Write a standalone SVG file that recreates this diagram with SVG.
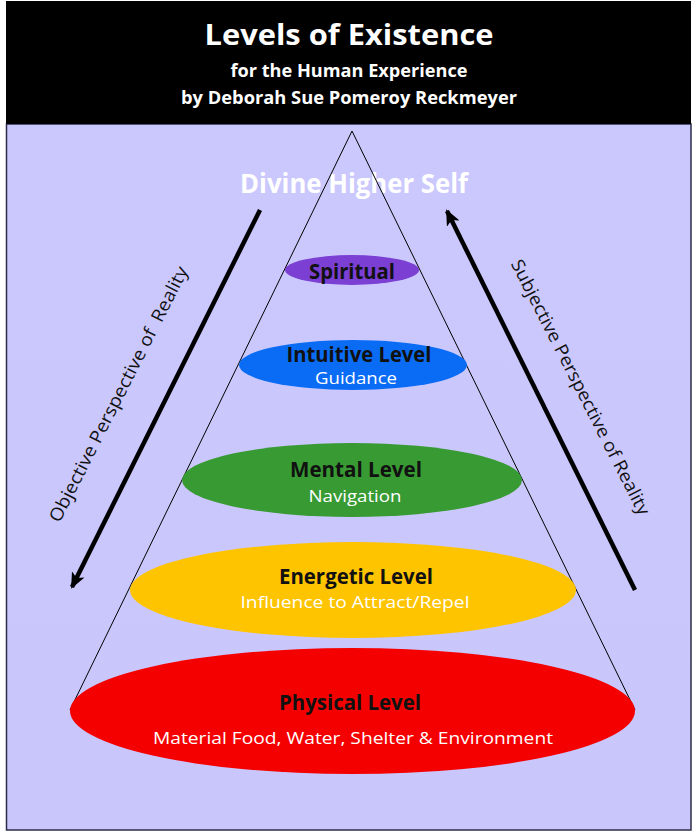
<svg xmlns="http://www.w3.org/2000/svg" width="697" height="840" viewBox="0 0 697 840">
  <defs>
    <linearGradient id="bg" x1="0" y1="0" x2="0" y2="1">
      <stop offset="0" stop-color="#cbc8fd"/>
      <stop offset="1" stop-color="#c9c6fb"/>
    </linearGradient>
    <marker id="head" markerUnits="userSpaceOnUse" markerWidth="16" markerHeight="16" viewBox="0 0 16 16" refX="14" refY="8" orient="auto">
      <path d="M0,1 L16,8 L0,15 L4,8 Z" fill="#000"/>
    </marker>
  </defs>
  <style>
    .t { font-family: "Open Sans", Lato, "Liberation Sans", sans-serif; }
    .b { font-weight: bold; }
    .lbl { font-size: 21px; fill: #111; font-weight: bold; text-anchor: middle; }
    .sub { font-size: 16.5px; fill: #fff; text-anchor: middle; }
    .side { font-size: 18px; fill: #111; text-anchor: middle; white-space: pre; }
    .arrow { stroke: #000; stroke-width: 4.5; fill: none; }
    .cone { stroke: #000; stroke-width: 1; fill: none; }
  </style>
  <rect x="0" y="0" width="697" height="840" fill="#fff"/>
  <rect x="6.5" y="124" width="684.5" height="706" fill="url(#bg)" stroke="#2c2c4a" stroke-width="1.5"/>
  <g id="header">
    <rect x="6" y="1" width="685" height="123" fill="#000"/>
    <text class="t b" x="349" y="45" font-size="28" fill="#fff" text-anchor="middle" textLength="289" lengthAdjust="spacingAndGlyphs">Levels of Existence</text>
    <text class="t b" x="349" y="77" font-size="17.5" fill="#fff" text-anchor="middle" textLength="237" lengthAdjust="spacingAndGlyphs">for the Human Experience</text>
    <text class="t b" x="349" y="104" font-size="17.5" fill="#fff" text-anchor="middle" textLength="336" lengthAdjust="spacingAndGlyphs">by Deborah Sue Pomeroy Reckmeyer</text>
  </g>
  <g id="divine">
    <text class="t b" x="354" y="193" font-size="26" fill="#fff" text-anchor="middle" textLength="228" lengthAdjust="spacingAndGlyphs">Divine Higher Self</text>
  </g>
  <g id="connectors">
    <line class="cone" x1="352" y1="131" x2="70" y2="710"/>
    <line class="cone" x1="352" y1="131" x2="635" y2="710"/>
    <line class="arrow" x1="260" y1="210" x2="72" y2="587" marker-end="url(#head)"/>
    <line class="arrow" x1="635" y1="590" x2="447" y2="211" marker-end="url(#head)"/>
  </g>
  <g id="objective">
    <text class="t side" transform="translate(124,397) rotate(-63)" textLength="284" lengthAdjust="spacingAndGlyphs">Objective Perspective of  Reality</text>
  </g>
  <g id="subjective">
    <text class="t side" transform="translate(575,390) rotate(63)" textLength="284" lengthAdjust="spacingAndGlyphs">Subjective Perspective of Reality</text>
  </g>
  <g id="spiritual">
    <ellipse cx="352" cy="270" rx="67" ry="15" fill="#7b3fd4"/>
    <text class="t lbl" x="352" y="279" textLength="86" lengthAdjust="spacingAndGlyphs">Spiritual</text>
  </g>
  <g id="intuitive">
    <ellipse cx="353" cy="365" rx="114" ry="25" fill="#0a6cf5"/>
    <text class="t lbl" x="359" y="362" font-size="20" textLength="145" lengthAdjust="spacingAndGlyphs">Intuitive Level</text>
    <text class="t sub" x="356" y="384" font-size="16" textLength="82" lengthAdjust="spacingAndGlyphs">Guidance</text>
  </g>
  <g id="mental">
    <ellipse cx="352" cy="480" rx="170" ry="37" fill="#389a33"/>
    <text class="t lbl" x="356" y="477" textLength="132" lengthAdjust="spacingAndGlyphs">Mental Level</text>
    <text class="t sub" x="355" y="502" textLength="93" lengthAdjust="spacingAndGlyphs">Navigation</text>
  </g>
  <g id="energetic">
    <ellipse cx="353" cy="590" rx="223" ry="48" fill="#ffc400"/>
    <text class="t lbl" x="356" y="584" textLength="154" lengthAdjust="spacingAndGlyphs">Energetic Level</text>
    <text class="t sub" x="355" y="608" textLength="229" lengthAdjust="spacingAndGlyphs">Influence to Attract/Repel</text>
  </g>
  <g id="physical">
    <ellipse cx="352.5" cy="711" rx="282.5" ry="63" fill="#f50000"/>
    <text class="t lbl" x="350" y="710" textLength="142" lengthAdjust="spacingAndGlyphs">Physical Level</text>
    <text class="t sub" x="353" y="744" font-size="17.5" textLength="400" lengthAdjust="spacingAndGlyphs">Material Food, Water, Shelter &amp; Environment</text>
  </g>
</svg>
